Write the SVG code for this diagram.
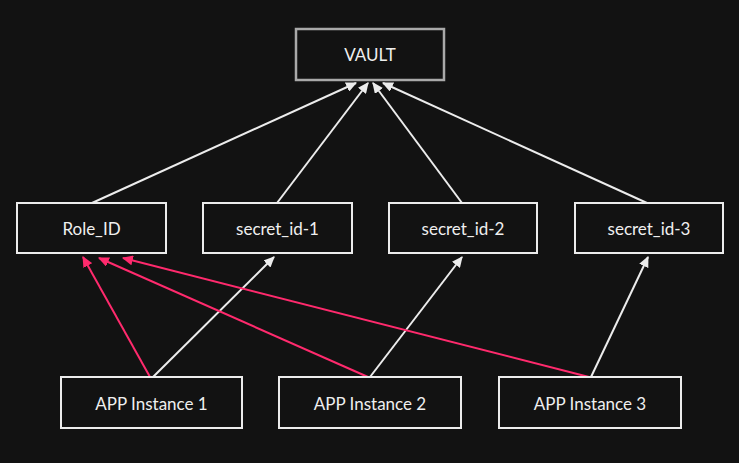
<svg xmlns="http://www.w3.org/2000/svg" width="739" height="463" viewBox="0 0 739 463">
<style>
.bg{fill:#121212}
.box{fill:#121212;stroke:#ececec;stroke-width:2}
.vault{fill:#121212;stroke:#a9a9a9;stroke-width:2.5}
.lbl{font-family:Lato,"Noto Sans","Liberation Sans",sans-serif;font-size:17px;fill:#efefef;text-anchor:middle;dominant-baseline:central}
.w{stroke:#ececec;stroke-width:2;fill:none;marker-end:url(#aw)}
.p{stroke:#ff2a6d;stroke-width:2;fill:none;marker-end:url(#ap)}
</style>
<defs>
<marker id="aw" viewBox="0 0 10 10" refX="9" refY="5" markerWidth="11" markerHeight="10" markerUnits="userSpaceOnUse" orient="auto" preserveAspectRatio="none">
<path d="M0,0 L10,5 L0,10 z" fill="#ececec"/>
</marker>
<marker id="ap" viewBox="0 0 10 10" refX="9" refY="5" markerWidth="11" markerHeight="10" markerUnits="userSpaceOnUse" orient="auto" preserveAspectRatio="none">
<path d="M0,0 L10,5 L0,10 z" fill="#ff2a6d"/>
</marker>
</defs>
<rect class="bg" x="0" y="0" width="739" height="463"/>
<g id="connectors">
<line class="w" x1="92" y1="203" x2="356" y2="83"/>
<line class="w" x1="277" y1="203" x2="368" y2="83"/>
<line class="w" x1="462" y1="203" x2="373" y2="83"/>
<line class="w" x1="647" y1="203" x2="383" y2="83"/>
<line class="w" x1="153" y1="377" x2="274" y2="257"/>
<line class="w" x1="370" y1="377" x2="462" y2="257"/>
<line class="w" x1="591" y1="377" x2="648" y2="257"/>
<line class="p" x1="150" y1="377" x2="83" y2="257"/>
<line class="p" x1="368" y1="377" x2="99" y2="258"/>
<line class="p" x1="589" y1="377" x2="123" y2="258"/>
</g>
<g id="vault"><rect class="vault" x="296" y="29" width="148" height="51"/><text class="lbl" x="370" y="54">VAULT</text></g>
<g id="role_id"><rect class="box" x="17" y="203" width="149" height="50"/><text class="lbl" x="91.5" y="228">Role_ID</text></g>
<g id="secret_id_1"><rect class="box" x="203" y="203" width="149" height="50"/><text class="lbl" x="277.5" y="228">secret_id-1</text></g>
<g id="secret_id_2"><rect class="box" x="389" y="203" width="148" height="50"/><text class="lbl" x="463" y="228">secret_id-2</text></g>
<g id="secret_id_3"><rect class="box" x="575" y="203" width="148" height="50"/><text class="lbl" x="649" y="228">secret_id-3</text></g>
<g id="app1"><rect class="box" x="61" y="377" width="181" height="51"/><text class="lbl" x="151.5" y="403">APP Instance 1</text></g>
<g id="app2"><rect class="box" x="279" y="377" width="182" height="51"/><text class="lbl" x="370" y="403">APP Instance 2</text></g>
<g id="app3"><rect class="box" x="499" y="377" width="182" height="51"/><text class="lbl" x="590" y="403">APP Instance 3</text></g>
</svg>
